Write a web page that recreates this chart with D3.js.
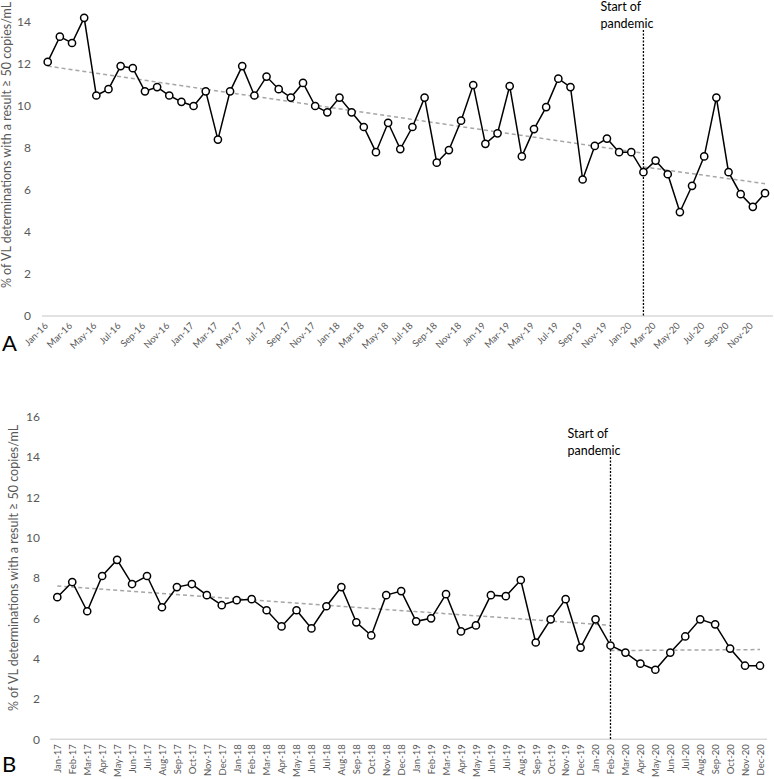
<!DOCTYPE html>
<html>
<head>
<meta charset="utf-8">
<script src="https://cdn.jsdelivr.net/npm/d3@7"></script>
<style>
  body { margin: 0; background: #fff; }
  svg { display: block; font-family: Lato, 'Open Sans', sans-serif; }
  .tick text { fill: #595959; }
</style>
</head>
<body>
<div id="svg_container"></div>
<script>
// panel A months and values
var monthsA = ['Jan-16','Feb-16','Mar-16','Apr-16','May-16','Jun-16','Jul-16','Aug-16','Sep-16','Oct-16','Nov-16','Dec-16',
  'Jan-17','Feb-17','Mar-17','Apr-17','May-17','Jun-17','Jul-17','Aug-17','Sep-17','Oct-17','Nov-17','Dec-17',
  'Jan-18','Feb-18','Mar-18','Apr-18','May-18','Jun-18','Jul-18','Aug-18','Sep-18','Oct-18','Nov-18','Dec-18',
  'Jan-19','Feb-19','Mar-19','Apr-19','May-19','Jun-19','Jul-19','Aug-19','Sep-19','Oct-19','Nov-19','Dec-19',
  'Jan-20','Feb-20','Mar-20','Apr-20','May-20','Jun-20','Jul-20','Aug-20','Sep-20','Oct-20','Nov-20','Dec-20'];
var valuesA = [12.1, 13.3, 13.0, 14.2, 10.5, 10.8, 11.9, 11.8, 10.7, 10.9, 10.5, 10.2,
  10.0, 10.7, 8.4, 10.7, 11.9, 10.5, 11.4, 10.8, 10.4, 11.1, 10.0, 9.7,
  10.4, 9.7, 9.0, 7.8, 9.2, 7.95, 9.0, 10.4, 7.3, 7.9, 9.3, 11.0,
  8.2, 8.7, 10.95, 7.6, 8.9, 9.95, 11.3, 10.9, 6.5, 8.1, 8.45, 7.8,
  7.8, 6.85, 7.4, 6.75, 4.95, 6.2, 7.6, 10.4, 6.85, 5.8, 5.2, 5.85];
var ticksA = [0, 2, 4, 6, 8, 10, 12, 14];
var trendA = [
  { from: 'Jan-16', to: 'Feb-20', y0: 11.9, y1: 7.75 },
  { from: 'Feb-20', to: 'Dec-20', y0: 7.1, y1: 6.3 }
];

// panel B months and values
var monthsB = ['Jan-17','Feb-17','Mar-17','Apr-17','May-17','Jun-17','Jul-17','Aug-17','Sep-17','Oct-17','Nov-17','Dec-17',
  'Jan-18','Feb-18','Mar-18','Apr-18','May-18','Jun-18','Jul-18','Aug-18','Sep-18','Oct-18','Nov-18','Dec-18',
  'Jan-19','Feb-19','Mar-19','Apr-19','May-19','Jun-19','Jul-19','Aug-19','Sep-19','Oct-19','Nov-19','Dec-19',
  'Jan-20','Feb-20','Mar-20','Apr-20','May-20','Jun-20','Jul-20','Aug-20','Sep-20','Oct-20','Nov-20','Dec-20'];
var valuesB = [7.05, 7.8, 6.35, 8.1, 8.9, 7.7, 8.1, 6.55, 7.55, 7.7, 7.15, 6.65,
  6.9, 6.95, 6.4, 5.6, 6.4, 5.5, 6.6, 7.55, 5.8, 5.15, 7.15, 7.35,
  5.85, 6.0, 7.2, 5.35, 5.65, 7.15, 7.1, 7.9, 4.8, 5.95, 6.95, 4.55,
  5.95, 4.65, 4.3, 3.75, 3.45, 4.3, 5.1, 5.95, 5.7, 4.5, 3.65, 3.65];
var ticksB = [0, 2, 4, 6, 8, 10, 12, 14, 16];
var trendB = [
  { from: 'Jan-17', to: 'Feb-20', y0: 7.6, y1: 5.65 },
  { from: 'Feb-20', to: 'Dec-20', y0: 4.4, y1: 4.45 }
];

var pandemicMonth = 'Feb-20';
var yTitle = '% of VL determinations with a result \u2265 50 copies/mL';

var svg = d3.select('#svg_container')
  .append('svg')
    .attr('width', 774)
    .attr('height', 779);

function drawPanel(opt) {
  var g = svg.append('g');

  var x = d3.scalePoint()
      .domain(opt.months)
      .range([opt.x0, opt.x1]);
  var y = d3.scaleLinear()
      .domain([0, opt.ymax])
      .range([opt.yBottom, opt.yTop]);

  // baseline
  g.append('line')
      .attr('x1', opt.axisLeft)
      .attr('x2', opt.axisRight)
      .attr('y1', y(0))
      .attr('y2', y(0))
      .attr('stroke', '#d9d9d9')
      .attr('stroke-width', 1.5);

  // y axis labels
  var ya = g.append('g')
      .attr('transform', 'translate(' + opt.yLabelX + ',0)')
      .call(d3.axisLeft(y).tickValues(opt.ticks).tickSize(0).tickPadding(0));
  ya.select('.domain').remove();
  ya.selectAll('text')
      .attr('font-size', 12)
      .attr('font-family', 'Lato, sans-serif');

  // x axis labels
  var xa = g.append('g')
      .attr('transform', 'translate(0,' + y(0) + ')')
      .call(d3.axisBottom(x).tickValues(opt.tickMonths).tickSize(0));
  xa.select('.domain').remove();
  xa.selectAll('text')
      .attr('font-size', 9.5)
      .attr('font-family', 'Lato, sans-serif')
      .attr('text-anchor', 'end')
      .attr('dy', opt.labelDy)
      .attr('transform', opt.labelTransform)
      .attr('y', 0)
      .attr('x', 0);

  // trend lines
  g.append('g').selectAll('line')
    .data(opt.trend)
    .enter().append('line')
      .attr('x1', function(d) { return x(d.from); })
      .attr('x2', function(d) { return x(d.to); })
      .attr('y1', function(d) { return y(d.y0); })
      .attr('y2', function(d) { return y(d.y1); })
      .attr('stroke', '#a6a6a6')
      .attr('stroke-width', 1.5)
      .attr('stroke-dasharray', '4,3');

  // pandemic marker
  g.append('line')
      .attr('x1', x(pandemicMonth))
      .attr('x2', x(pandemicMonth))
      .attr('y1', opt.pandTop)
      .attr('y2', y(0))
      .attr('stroke', '#000')
      .attr('stroke-width', 1.3)
      .attr('stroke-dasharray', '2,1.5');

  var note = g.append('text')
      .attr('x', x(pandemicMonth) - 43)
      .attr('y', opt.pandTop - 19)
      .attr('font-size', 12.5)
      .attr('font-family', 'Lato, sans-serif')
      .attr('fill', '#000');
  note.append('tspan').text('Start of');
  note.append('tspan')
      .attr('x', x(pandemicMonth) - 43)
      .attr('dy', 17)
      .text('pandemic');

  // series line
  var data = opt.months.map(function(m, i) { return { m: m, v: opt.values[i] }; });
  g.append('path')
      .datum(data)
      .attr('fill', 'none')
      .attr('stroke', '#000')
      .attr('stroke-width', 1.5)
      .attr('d', d3.line()
        .x(function(d) { return x(d.m); })
        .y(function(d) { return y(d.v); }));

  g.append('g').selectAll('circle')
    .data(data)
    .enter().append('circle')
      .attr('cx', function(d) { return x(d.m); })
      .attr('cy', function(d) { return y(d.v); })
      .attr('r', 3.6)
      .attr('fill', '#fff')
      .attr('stroke', '#000')
      .attr('stroke-width', 1.5);

  // y title
  g.append('text')
      .attr('transform', 'translate(' + opt.titleX + ',' + opt.titleY + ') rotate(-90)')
      .attr('text-anchor', 'middle')
      .attr('font-size', 12.5)
      .attr('font-family', 'Lato, sans-serif')
      .attr('fill', '#595959')
      .text(yTitle);

  // panel letter
  g.append('text')
      .attr('x', 2)
      .attr('y', opt.letterY)
      .attr('font-size', 22)
      .attr('font-family', 'Lato, sans-serif')
      .attr('fill', '#000')
      .text(opt.letter);
}

drawPanel({
  months: monthsA, values: valuesA, ticks: ticksA, trend: trendA,
  tickMonths: monthsA.filter(function(d, i) { return i % 2 === 0; }),
  x0: 47.7, x1: 765, axisLeft: 42, axisRight: 773,
  ymax: 14, yBottom: 316, yTop: 22,
  yLabelX: 31, labelDy: '0.35em', labelTransform: 'translate(-2,8) rotate(-45)',
  pandTop: 30, titleX: 11, titleY: 145, letter: 'A', letterY: 351
});

drawPanel({
  months: monthsB, values: valuesB, ticks: ticksB, trend: trendB,
  tickMonths: monthsB,
  x0: 57.3, x1: 760, axisLeft: 50, axisRight: 767,
  ymax: 16, yBottom: 739.3, yTop: 416.7,
  yLabelX: 40, labelDy: '0.35em', labelTransform: 'translate(0,5) rotate(-90)',
  pandTop: 457, titleX: 18, titleY: 568, letter: 'B', letterY: 772
});
</script>
</body>
</html>
